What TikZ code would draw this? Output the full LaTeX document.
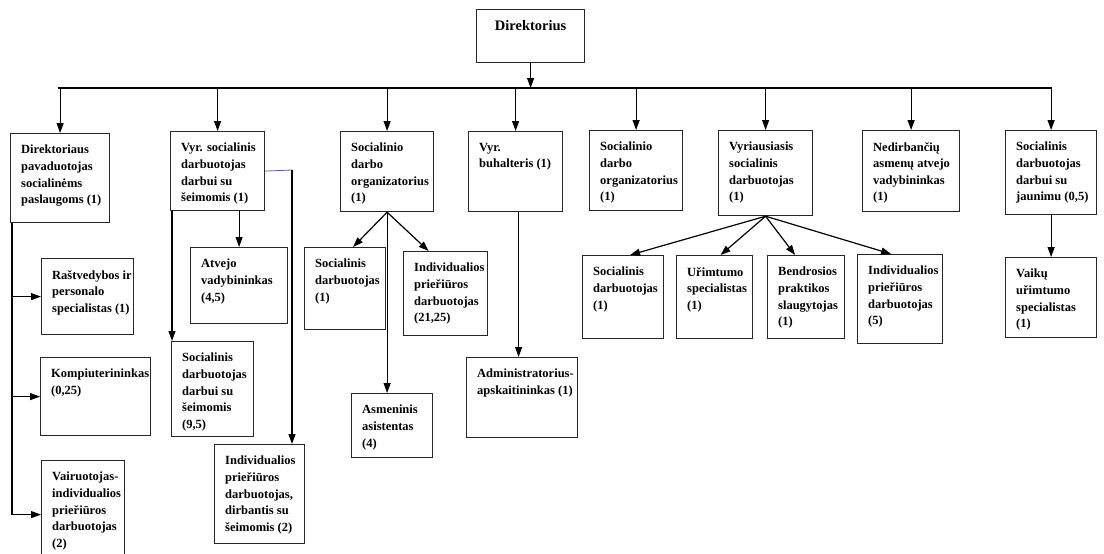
\documentclass[tikz,border=0pt]{standalone}
\usepackage{fontspec}
\setmainfont{Liberation Serif}
\usetikzlibrary{calc}
\usetikzlibrary{arrows.meta}

\tikzset{
	frame/.style={draw=black!85,line width=1.2pt,inner sep=0pt},
	label/.style={font=\bfseries\fontsize{12.5}{16.6}\selectfont,align=left,inner sep=0pt,anchor=north west},
	link/.style={line width=1.2pt,-{Triangle[length=10pt,width=7pt]}},
	wire/.style={line width=1.2pt}
}
\newcommand{\orgbox}[6]{%
	\node[frame,minimum width=#4pt,minimum height=#5pt,anchor=north west] (#1) at (#2,#3) {};
	\node[label] (#1-t) at ([xshift=11pt,yshift=-12pt]#1.north west) {#6};
}

\begin{document}
\begin{tikzpicture}[x=1pt,y=-1pt]
	\useasboundingbox (0,0) rectangle (1104,554);
	\clip (0,0) rectangle (1104,554);
	\fill[white] (0,0) rectangle (1104,554);

	\node[frame,minimum width=108pt,minimum height=53pt,anchor=north west] (dir) at (476,9) {};
	\node[label,font=\bfseries\fontsize{14.5}{16}\selectfont,anchor=north] (dir-t) at ([yshift=-11pt]dir.north) {Direktorius};

	\orgbox{b1}{10}{133}{99}{89}{Direktoriaus\\pavaduotojas\\socialinėms\\paslaugoms (1)}
	\orgbox{b2}{170}{131}{94}{79}{Vyr. socialinis\\darbuotojas\\darbui su\\šeimomis (1)}
	\orgbox{b3}{340}{131}{93}{80}{Socialinio\\darbo\\organizatorius\\(1)}
	\orgbox{b4}{468}{131}{94}{80}{Vyr.\\buhalteris (1)}
	\orgbox{b5}{589}{130}{93}{80}{Socialinio\\darbo\\organizatorius\\(1)}
	\orgbox{b6}{718}{130}{94}{85}{Vyriausiasis\\socialinis\\darbuotojas\\(1)}
	\orgbox{b7}{862}{130}{97}{81}{Nedirbančių\\asmenų atvejo\\vadybininkas\\(1)}
	\orgbox{b8}{1005}{130}{91}{84}{Socialinis\\darbuotojas\\darbui su\\jaunimu (0,5)}

	\orgbox{ras}{41}{258}{92}{76}{Raštvedybos ir\\personalo\\specialistas (1)}
	\orgbox{kom}{40}{357}{110}{78}{Kompiuterininkas\\(0,25)}
	\orgbox{vai}{41}{460}{83}{108}{Vairuotojas-\\individualios\\prieřiūros\\darbuotojas\\(2)}

	\orgbox{atv}{190}{247}{97}{76}{Atvejo\\vadybininkas\\(4,5)}
	\orgbox{s95}{171}{341}{82}{95}{Socialinis\\darbuotojas\\darbui su\\šeimomis\\(9,5)}
	\orgbox{ind2}{214}{444}{90}{99}{Individualios\\prieřiūros\\darbuotojas,\\dirbantis su\\šeimomis (2)}

	\orgbox{sd1}{304}{247}{81}{82}{Socialinis\\darbuotojas\\(1)}
	\orgbox{ind21}{403}{251}{84}{84}{Individualios\\prieřiūros\\darbuotojas\\(21,25)}
	\orgbox{asm}{351}{393}{81}{64}{Asmeninis\\asistentas\\(4)}

	\orgbox{adm}{466}{357}{111}{80}{Administratorius-\\apskaitininkas (1)}

	\orgbox{c1}{582}{255}{81}{83}{Socialinis\\darbuotojas\\(1)}
	\orgbox{c2}{676}{255}{76}{83}{Uřimtumo\\specialistas\\(1)}
	\orgbox{c3}{767}{255}{77}{83}{Bendrosios\\praktikos\\slaugytojas\\(1)}
	\orgbox{c4}{857}{254}{85}{89}{Individualios\\prieřiūros\\darbuotojas\\(5)}

	\orgbox{vaik}{1005}{257}{91}{80}{Vaikų\\uřimtumo\\specialistas\\(1)}

	\coordinate (busL) at (58,88);
	\coordinate (busR) at (1052,88);
	\draw[wire] (busL) -- (busR);
	\draw[link] (dir.south) -- (dir.south |- busL);
	\draw[link] (b1.north |- busL) -- (b1.north);
	\draw[link] (b2.north |- busL) -- (b2.north);
	\draw[link] (b3.north |- busL) -- (b3.north);
	\draw[link] (b4.north |- busL) -- (b4.north);
	\draw[link] (b5.north |- busL) -- (b5.north);
	\draw[link] (b6.north |- busL) -- (b6.north);
	\draw[link] (b7.north |- busL) -- (b7.north);
	\draw[link] (b8.north |- busL) -- (b8.north);

	\coordinate (trunk) at ([xshift=2pt]b1.south west);
	\draw[wire] (trunk) -- (trunk |- vai.west);
	\draw[link] (trunk |- ras.west) -- (ras.west);
	\draw[link] (trunk |- kom.west) -- (kom.west);
	\draw[link] (trunk |- vai.west) -- (vai.west);

	\draw[link] (atv.north |- b2.south) -- (atv.north);
	\coordinate (side) at ([xshift=2pt]b2.south west);
	\draw[link] (side) -- (side |- s95.north);
	\coordinate (bend) at (292,170);
	\draw[line width=0.8pt,blue!30!gray] (b2.east) -- (bend);
	\draw[link] (bend) -- (bend |- ind2.north);

	\draw[link] (b3.south) -- ([xshift=8pt]sd1.north);
	\draw[link] (b3.south) -- ([xshift=-17pt]ind21.north);
	\draw[link] (b3.south) -- (b3.south |- asm.north);

	\draw[link] ([xshift=3pt]b4.south) -- ([xshift=3pt]b4.south |- adm.north);

	\draw[link] (b6.south) -- ([xshift=7pt]c1.north);
	\draw[link] (b6.south) -- ([xshift=6pt]c2.north);
	\draw[link] (b6.south) -- ([xshift=-11pt]c3.north);
	\draw[link] (b6.south) -- ([xshift=-9pt]c4.north);

	\draw[link] (b8.south) -- (vaik.north);
\end{tikzpicture}
\end{document}
